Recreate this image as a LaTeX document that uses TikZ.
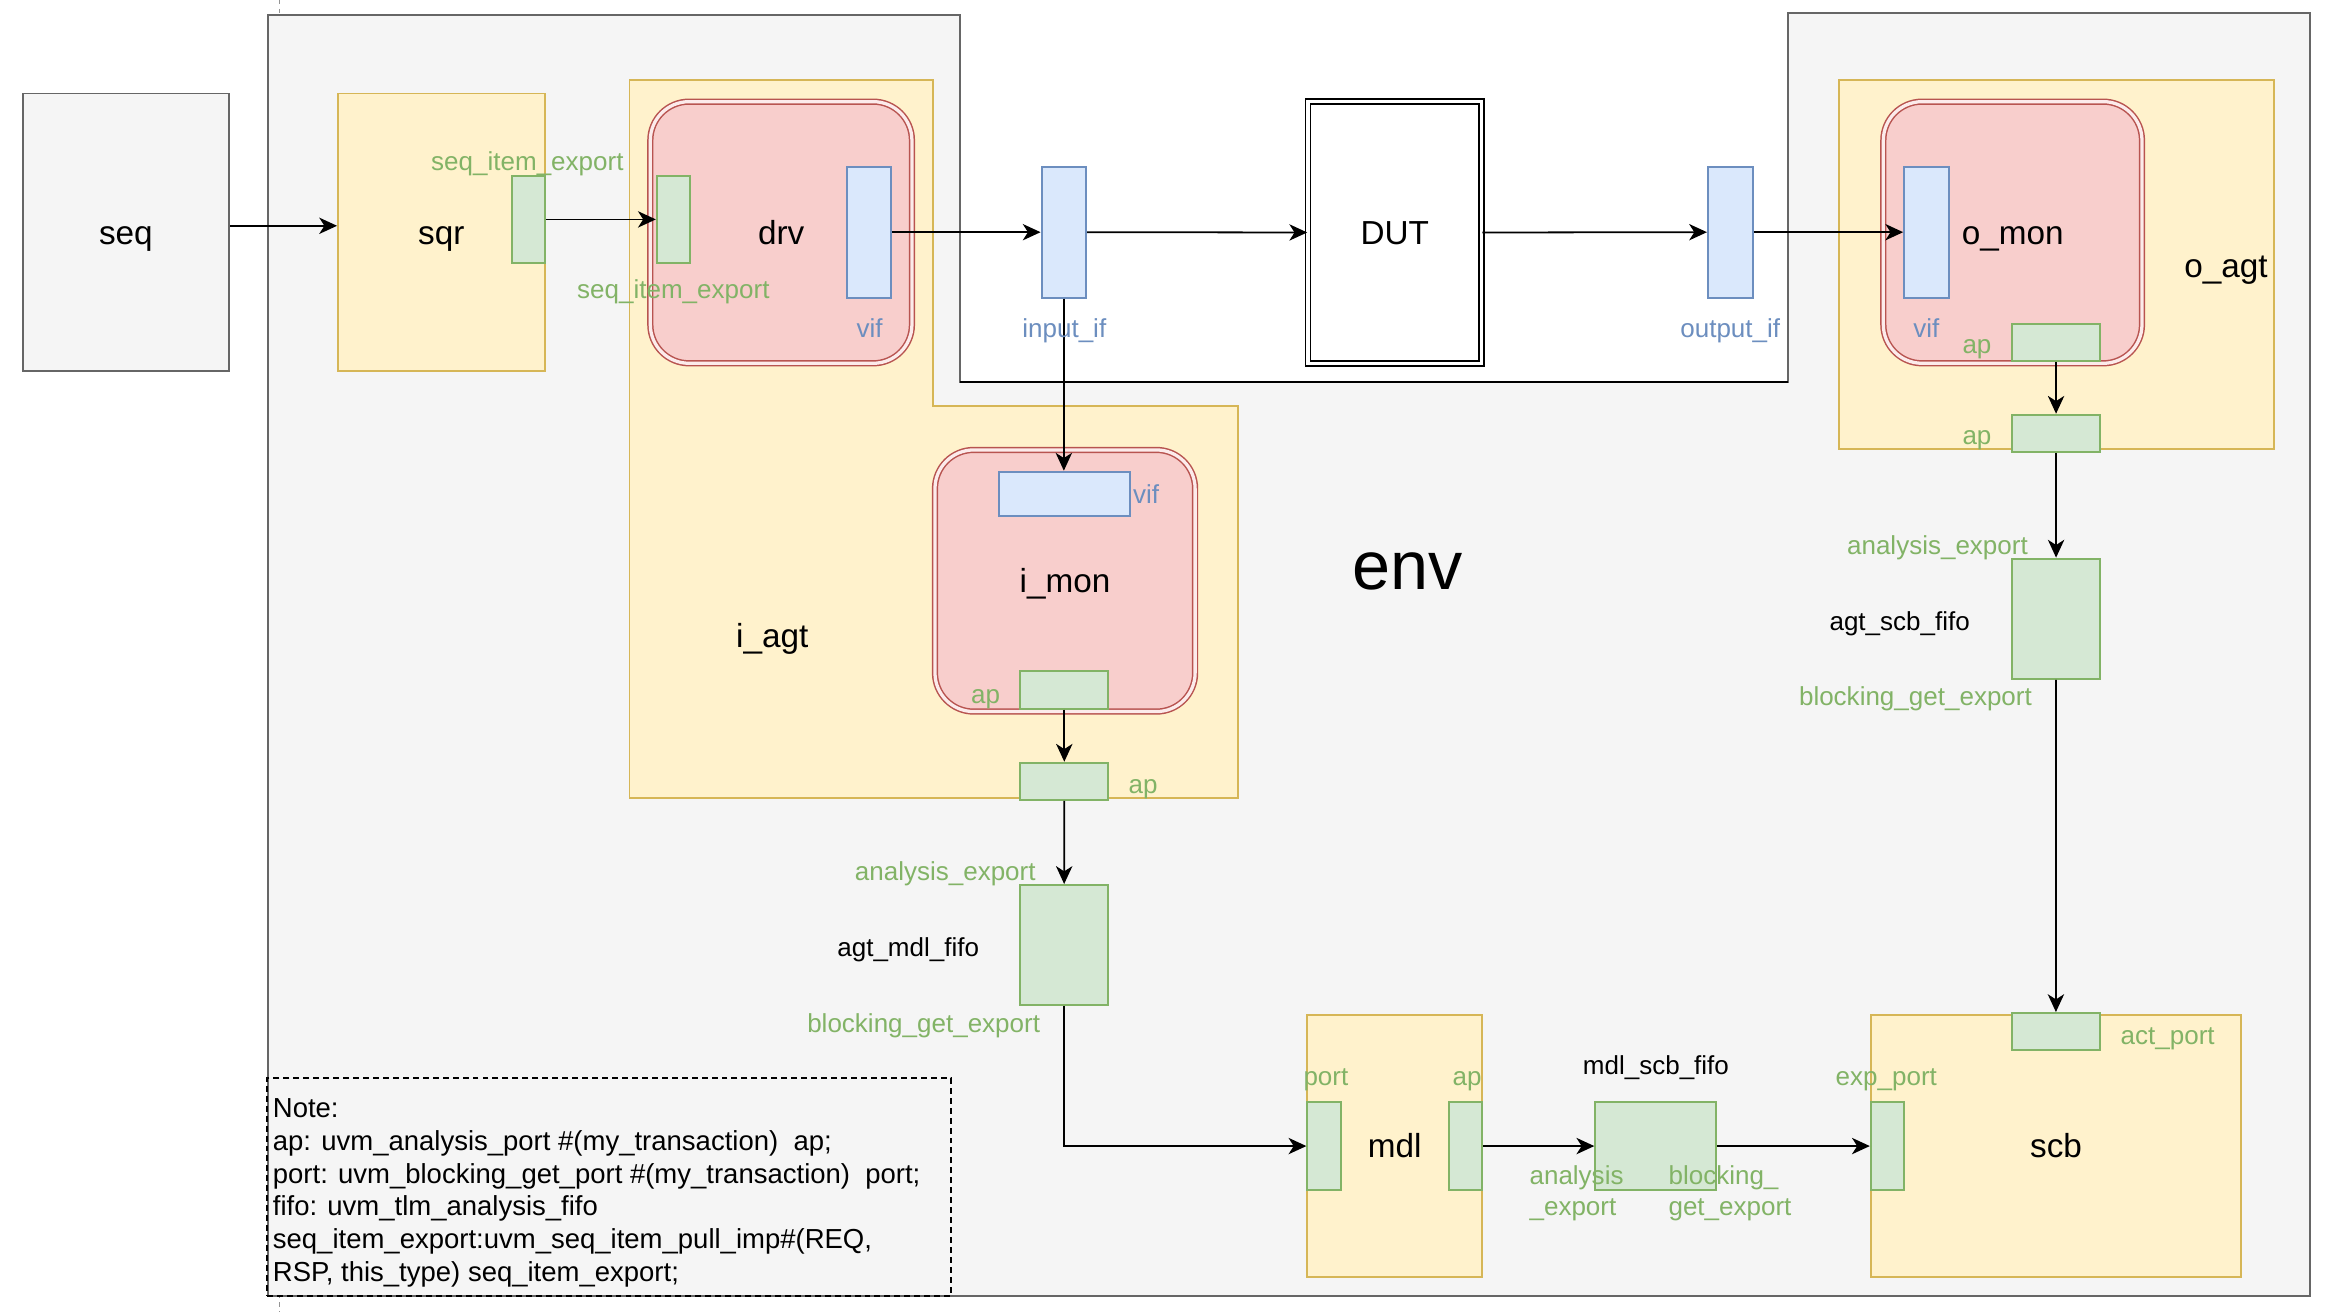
\documentclass[tikz,border=0pt]{standalone}
\usepackage{fontspec}
\setmainfont{Liberation Sans}
\usetikzlibrary{arrows.meta}
\definecolor{envfill}{HTML}{F5F5F5}
\definecolor{envline}{HTML}{666666}
\definecolor{ylwfill}{HTML}{FFF2CC}
\definecolor{ylwline}{HTML}{D6B656}
\definecolor{grnfill}{HTML}{D5E8D4}
\definecolor{grnline}{HTML}{82B366}
\definecolor{blufill}{HTML}{DAE8FC}
\definecolor{bluline}{HTML}{6C8EBF}
\definecolor{redfill}{HTML}{F8CECC}
\definecolor{redline}{HTML}{B85450}
\begin{document}
\begin{tikzpicture}[x=1pt, y=-1pt,
        box/.style 2 args={draw, line width=1.3pt, inner sep=0pt, minimum width=#1, minimum height=#2,
            font=\fontsize{22.4}{26}\selectfont, text height=20.3pt, text depth=4.7pt},
        greybox/.style={draw=envline, fill=envfill},
        ylwbox/.style={draw=ylwline, fill=ylwfill},
        grnport/.style={draw=grnline, fill=grnfill},
        bluport/.style={draw=bluline, fill=blufill},
        redcomp/.style={draw=redline, fill=redfill, line width=1pt, double=redfill!40!white,
            double distance=2.2pt, rounded corners=26pt},
        dutbox/.style={draw=black, fill=white, line width=1.1pt, double=white, double distance=2.2pt},
        lbl/.style={inner sep=0pt, font=\fontsize{17.5}{21}\selectfont, text height=15.8pt, text depth=3.7pt},
        biglbl/.style={inner sep=0pt, font=\fontsize{22.4}{26}\selectfont, text height=20.3pt, text depth=4.7pt},
        glbl/.style={lbl, text=grnline},
        blbl/.style={lbl, text=bluline},
        glbltwo/.style={inner sep=0pt, font=\fontsize{17.5}{20.5}\selectfont, text=grnline, align=left},
        notetxt/.style={inner sep=0pt, font=\fontsize{18.5}{22}\selectfont, align=left},
        conn/.style={line width=1.2pt, -{Stealth[length=12pt, width=11pt, inset=3.5pt]}}]
    \useasboundingbox (0,0) rectangle (1567.5,882.6);
    \fill[white] (0,0) rectangle (1567.5,882.6);
    \draw[envline!70, dashed, line width=0.8pt] (188,0) -- (188,882.6);
    % env
    \draw[envline, fill=envfill, line width=1.3pt] (180,10) -- (646,10) -- (646,257) -- (1203,257)
        -- (1203,8.5) -- (1554,8.5) -- (1554,872) -- (180,872) -- cycle;
    \draw[black, line width=1.5pt] (646,257) -- (1203,257);
    \node[biglbl, font=\fontsize{46}{52}\selectfont, text height=41.6pt, text depth=9.8pt] (envlbl) at (947,381) {env};

    % i_agt
    \draw[ylwline, fill=ylwfill, line width=1.3pt] (423.5,53.8) -- (627.7,53.8) -- (627.7,273.3)
        -- (832.8,273.3) -- (832.8,536.6) -- (423.5,536.6) -- cycle;
    \node[biglbl] (iagtlbl) at (519.5,428) {i\_agt};

    \node[box={139}{187}, greybox] (seq) at (84.7,156.4) {seq};
    \node[box={139}{187}, ylwbox] (sqr) at (296.9,156.4) {sqr};
    \node[box={22.3}{59}, grnport] (sqrexp) at (355.3,147.6) {};
    \node[box={176}{176}, redcomp] (drv) at (525.5,156.4) {drv};
    \node[box={22.3}{59}, grnport] (drvexp) at (453,147.6) {};
    \node[box={29.6}{88.2}, bluport] (drvvif) at (584.6,156.2) {};
    \node[box={30}{88.2}, bluport] (inputif) at (715.7,156.2) {};
    \node[box={116.7}{176}, dutbox] (dut) at (938.3,156.4) {DUT};
    \node[box={30}{88.2}, bluport] (outputif) at (1164,156.2) {};

    % o_agt
    \node[box={293}{248}, ylwbox] (oagt) at (1383.5,177.9) {};
    \node[biglbl] (oagtlbl) at (1497.5,179) {o\_agt};
    \node[box={174}{176}, redcomp] (omon) at (1354,156.4) {o\_mon};
    \node[box={30}{88.2}, bluport] (omonvif) at (1296,156.2) {};
    \node[box={59}{21}, grnport] (omonap) at (1383.2,230.5) {};
    \node[box={59}{21}, grnport] (oagtap) at (1383.2,291.5) {};
    \node[box={59}{81}, grnport] (asfifo) at (1383.2,416.3) {};

    % i_mon
    \node[box={175}{176}, redcomp] (imon) at (716.5,390.7) {i\_mon};
    \node[box={88}{29.6}, bluport] (imonvif) at (716,332.1) {};
    \node[box={59}{22.4}, grnport] (imonap) at (716,464.2) {};
    \node[box={59}{22}, grnport] (iagtap) at (716,525.6) {};
    \node[box={59}{80.7}, grnport] (amfifo) at (715.9,635.7) {};

    % mdl and scb
    \node[box={117.7}{176.1}, ylwbox] (mdl) at (938.2,770.9) {mdl};
    \node[box={22.4}{58.9}, grnport] (mdlport) at (890.7,771) {};
    \node[box={22.6}{58.9}, grnport] (mdlap) at (985.9,771) {};
    \node[box={81.4}{58.9}, grnport] (msfifo) at (1113.9,771) {};
    \node[box={249.3}{176.1}, ylwbox] (scb) at (1383.2,770.9) {scb};
    \node[box={59.2}{22.4}, grnport] (actport) at (1383.1,694) {};
    \node[box={22.5}{58.9}, grnport] (expport) at (1269.8,771) {};

    % note
    \node[draw, dashed, dash pattern=on 4pt off 2.7pt, line width=1.3pt, inner sep=0pt,
        minimum width=460.2, minimum height=146.5] (note) at (409.7,798.6) {};
    \node[notetxt, anchor=north west] (notetext) at (183.4,739.1) {Note:\\
        ap: uvm\_analysis\_port \#(my\_transaction)\ \ ap;\\
        port: uvm\_blocking\_get\_port \#(my\_transaction)\ \ port;\\
        fifo: uvm\_tlm\_analysis\_fifo\\
        seq\_item\_export:uvm\_seq\_item\_pull\_imp\#(REQ,\\
        RSP, this\_type) seq\_item\_export;};

    % connections
    \draw[conn] ([yshift=4.5pt]seq.east) -- ([yshift=4.5pt]sqr.west);
    \draw[conn] (sqrexp.east) -- (drvexp.west);
    \draw[conn] (drvvif.east) -- (inputif.west);
    \draw[conn] (inputif.east) -- (dut.west);
    \draw[conn] (dut.east) -- (outputif.west);
    \draw[conn] (outputif.east) -- (omonvif.west);
    \draw[conn] (inputif.south) -- (inputif.south |- imonvif.north);
    \draw[conn] (imonap.south) -- (iagtap.north);
    \draw[conn] (iagtap.south) -- (amfifo.north);
    \draw[conn] (amfifo.south) |- (mdlport.west);
    \draw[conn] (mdlap.east) -- (msfifo.west);
    \draw[conn] (msfifo.east) -- (expport.west);
    \draw[conn] (omonap.south) -- (oagtap.north);
    \draw[conn] (oagtap.south) -- (asfifo.north);
    \draw[conn] (asfifo.south) -- (actport.north);

    % labels
    \node[glbl] (sqrexpl) at (354.8,108.8) {seq\_item\_export};
    \node[glbl] (drvexpl) at (453,195) {seq\_item\_export};
    \node[blbl] (drvvifl) at (585,220.9) {vif};
    \node[blbl] (inputifl) at (716,220.8) {input\_if};
    \node[blbl] (outputifl) at (1164,220.8) {output\_if};
    \node[blbl] (omonvifl) at (1296,220.8) {vif};
    \node[glbl] (omonapl) at (1330,232) {ap};
    \node[glbl] (oagtapl) at (1330,293) {ap};
    \node[glbl] (asfifoinl) at (1303.4,367.1) {analysis\_export};
    \node[lbl] (asfifol) at (1278,418.2) {agt\_scb\_fifo};
    \node[glbl] (asfifooutl) at (1288.6,468.7) {blocking\_get\_export};
    \node[glbl] (actportl) at (1458.3,696.3) {act\_port};
    \node[glbl] (expportl) at (1269,723.9) {exp\_port};
    \node[blbl] (imonvifl) at (771,333) {vif};
    \node[glbl] (imonapl) at (663,467.5) {ap};
    \node[glbl] (iagtapl) at (769,528) {ap};
    \node[glbl] (amfifoinl) at (635.9,586.4) {analysis\_export};
    \node[lbl] (amfifol) at (611,637.5) {agt\_mdl\_fifo};
    \node[glbl] (amfifooutl) at (621.4,688.4) {blocking\_get\_export};
    \node[glbl] (mdlportl) at (892,723.9) {port};
    \node[glbl] (mdlapl) at (987,723.9) {ap};
    \node[lbl] (msfifol) at (1114,716.5) {mdl\_scb\_fifo};
    \node[glbltwo, anchor=north west] (msfifoinl) at (1028.8,784.3) {analysis\\\_export};
    \node[glbltwo, anchor=north west] (msfifooutl) at (1122.3,784.3) {blocking\_\\get\_export};
\end{tikzpicture}
\end{document}
